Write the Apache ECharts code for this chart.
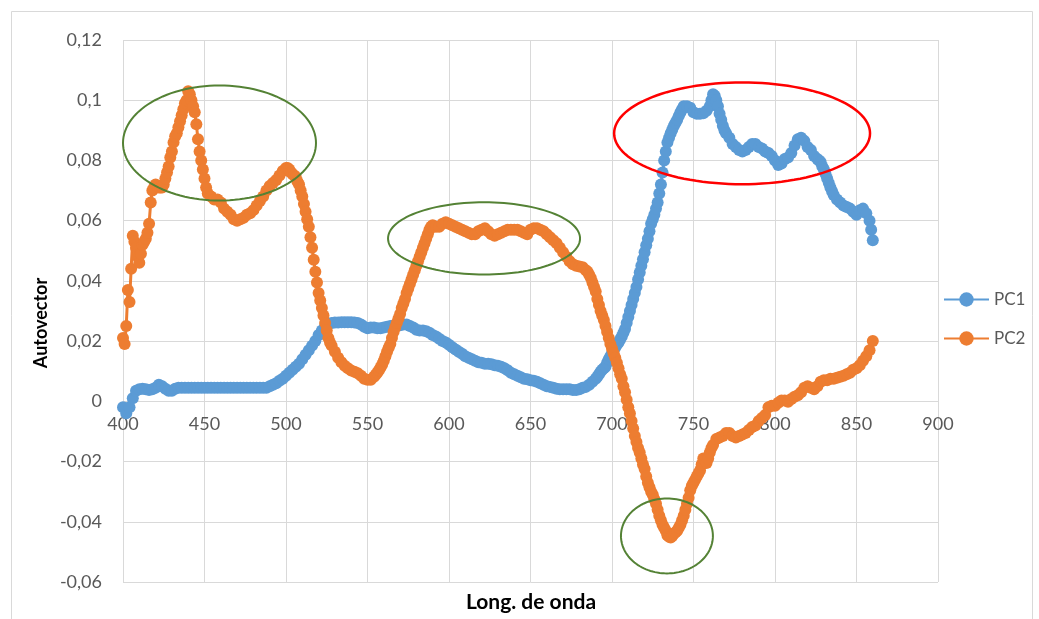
<!DOCTYPE html>
<html>
<head>
<meta charset="utf-8">
<script src="https://cdn.jsdelivr.net/npm/echarts@6/dist/echarts.min.js"></script>
<style>html,body{margin:0;padding:0;background:#fff;}#c{width:1039px;height:619px;}</style>
</head>
<body>
<div id="c"></div>
<script>
const wavelengths = [
400,402,404,406,408,410,412,414,416,418,
420,422,424,426,428,430,432,434,436,438,
440,442,444,446,448,450,452,454,456,458,
460,462,464,466,468,470,472,474,476,478,
480,482,484,486,488,490,492,494,496,498,
500,502,504,506,508,510,512,514,516,518,
520,522,524,526,528,530,532,534,536,538,
540,542,544,546,548,550,552,554,556,558,
560,562,564,566,568,570,572,574,576,578,
580,582,584,586,588,590,592,594,596,598,
600,602,604,606,608,610,612,614,616,618,
620,622,624,626,628,630,632,634,636,638,
640,642,644,646,648,650,652,654,656,658,
660,662,664,666,668,670,672,674,676,678,
680,682,684,686,688,690,692,694,696,698,
700,702,704,706,708,710,712,714,716,718,
720,722,724,726,728,730,732,734,736,738,
740,742,744,746,748,750,752,754,756,758,
760,762,764,766,768,770,772,774,776,778,
780,782,784,786,788,790,792,794,796,798,
800,802,804,806,808,810,812,814,816,818,
820,822,824,826,828,830,832,834,836,838,
840,842,844,846,848,850,852,854,856,858,
860];

const pc1 = [
-0.002,-0.004,-0.002,0.001,0.0035,0.004,0.0042,0.004,0.0038,0.004,
0.0045,0.0055,0.005,0.0042,0.0035,0.0035,0.0042,0.0045,0.0045,0.0045,
0.0045,0.0045,0.0045,0.0045,0.0045,0.0045,0.0045,0.0045,0.0045,0.0045,
0.0045,0.0045,0.0045,0.0045,0.0045,0.0045,0.0045,0.0045,0.0045,0.0045,
0.0045,0.0045,0.0045,0.0045,0.0045,0.005,0.0055,0.006,0.0068,0.0075,
0.0085,0.0095,0.0105,0.0115,0.0125,0.014,0.0155,0.017,0.0185,0.02,
0.022,0.0235,0.025,0.0258,0.026,0.0262,0.0262,0.0263,0.0263,0.0263,
0.0263,0.0262,0.026,0.0255,0.0248,0.0243,0.0245,0.0245,0.0243,0.0243,
0.0245,0.0248,0.025,0.0252,0.0252,0.0253,0.0255,0.0255,0.025,0.0245,
0.0238,0.0235,0.0235,0.0233,0.0228,0.022,0.0215,0.0208,0.02,0.0195,
0.0188,0.018,0.0172,0.0165,0.0158,0.015,0.0145,0.014,0.0135,0.013,
0.0128,0.0125,0.0125,0.0123,0.012,0.0118,0.0115,0.011,0.0103,0.0095,
0.009,0.0085,0.008,0.0075,0.0073,0.007,0.0068,0.0065,0.006,0.0055,
0.005,0.0048,0.0045,0.0042,0.004,0.004,0.004,0.004,0.0038,0.0038,
0.004,0.0045,0.0048,0.0055,0.0065,0.0075,0.009,0.0105,0.0115,0.014,
0.016,0.018,0.0195,0.0215,0.024,0.028,0.032,0.036,0.0405,0.045,
0.0495,0.054,0.059,0.062,0.066,0.072,0.080,0.086,0.089,0.0915,
0.0935,0.096,0.098,0.098,0.0975,0.096,0.0955,0.0955,0.0957,0.0965,
0.098,0.102,0.1,0.0955,0.0915,0.089,0.0875,0.0855,0.0845,0.0835,
0.083,0.0835,0.0845,0.0855,0.0855,0.0845,0.084,0.083,0.0825,0.0815,
0.080,0.0785,0.079,0.0805,0.081,0.0825,0.085,0.087,0.0875,0.0865,
0.0845,0.0835,0.0815,0.0805,0.0795,0.077,0.074,0.071,0.0685,0.067,
0.066,0.065,0.0645,0.064,0.063,0.062,0.0635,0.064,0.0625,0.06,
0.0535];

// extra readings taken on the steep parts of PC1 (odd wavelengths)
const pc1ExtraWl = [691,693,695,697,699,701,703,705,707,709,711,713,715,717,719,721,723,725,727,729,
  731,733,735,737,739,741,743,761,763,765,767,769,827,829,831,833,835,859];
const pc1Extra = [0.0082,0.0098,0.011,0.0128,0.015,0.017,0.0188,0.0205,0.0228,0.026,0.030,0.034,0.038,0.0428,0.0472,0.0518,0.0565,0.0605,0.064,0.069,
  0.076,0.083,0.0875,0.0903,0.0925,0.0948,0.097,0.100,0.1015,0.098,0.0935,0.090,0.080,0.078,0.0755,0.0725,0.0698,0.057];

const pc2 = [
0.021,0.025,0.033,0.055,0.051,0.046,0.052,0.054,0.059,0.070,
0.072,0.071,0.071,0.074,0.078,0.083,0.088,0.091,0.095,0.099,
0.103,0.1,0.096,0.087,0.08,0.074,0.069,0.068,0.067,0.067,
0.066,0.064,0.063,0.062,0.0605,0.060,0.0605,0.061,0.062,0.0625,
0.0635,0.065,0.0665,0.068,0.07,0.0715,0.0725,0.0735,0.075,0.0765,
0.0775,0.077,0.0755,0.0745,0.072,0.068,0.063,0.058,0.051,0.043,
0.036,0.031,0.026,0.021,0.0185,0.0165,0.0145,0.013,0.0118,0.011,
0.0102,0.0098,0.0093,0.0085,0.0075,0.0072,0.0072,0.0082,0.0095,0.0112,
0.0135,0.0165,0.019,0.023,0.026,0.029,0.0325,0.036,0.039,0.042,
0.045,0.048,0.051,0.054,0.057,0.0585,0.058,0.058,0.059,0.0595,
0.059,0.0585,0.058,0.0575,0.057,0.0565,0.056,0.0555,0.0555,0.0565,
0.057,0.0575,0.0565,0.0555,0.055,0.0555,0.056,0.0565,0.057,0.057,
0.057,0.057,0.0565,0.056,0.0555,0.057,0.0575,0.0575,0.057,0.0565,
0.0555,0.0545,0.0535,0.0525,0.051,0.0495,0.048,0.0465,0.0455,0.045,
0.0448,0.0445,0.0435,0.042,0.0395,0.0365,0.032,0.0285,0.025,0.021,
0.0175,0.0145,0.011,0.0075,0.003,-0.002,-0.0065,-0.0115,-0.0155,-0.019,
-0.0225,-0.027,-0.03,-0.0325,-0.036,-0.0395,-0.042,-0.0445,-0.0452,-0.044,
-0.043,-0.041,-0.038,-0.034,-0.0295,-0.027,-0.025,-0.023,-0.019,-0.0205,
-0.017,-0.0145,-0.0125,-0.012,-0.0115,-0.0105,-0.0105,-0.0115,-0.012,-0.0115,
-0.011,-0.0105,-0.0095,-0.0085,-0.008,-0.0065,-0.0055,-0.0045,-0.002,-0.0015,
-0.0015,-0.0005,0.0003,0.0003,-0.0001,0.0008,0.0015,0.002,0.003,0.0045,
0.005,0.0045,0.004,0.005,0.0065,0.007,0.007,0.0075,0.0075,0.0078,
0.0082,0.0085,0.009,0.0095,0.0105,0.011,0.012,0.0135,0.015,0.017,
0.020];

// extra readings taken on the steep parts of PC2 (odd wavelengths)
const pc2ExtraWl = [401,403,405,407,409,411,413,415,417,419,421,423,425,427,429,431,433,435,437,439,
  441,443,445,447,449,451,501,503,505,507,509,511,513,515,517,519,521,523,525,527,
  555,557,559,561,563,565,567,569,571,573,575,577,579,581,583,585,587,589,
  685,687,689,691,693,695,697,699,701,703,705,707,709,711,713,715,717,719,721,723,
  725,727,729,731,733,735,737,739,741,743,745,747,749,751,753,755,757,759,761];
const pc2Extra = [0.019,0.037,0.044,0.053,0.048,0.049,0.053,0.056,0.066,0.071,0.0715,0.071,0.072,0.076,0.081,0.086,0.089,0.093,0.097,0.100,
  0.102,0.098,0.092,0.083,0.077,0.071,0.0775,0.076,0.075,0.073,0.070,0.0655,0.0605,0.0545,0.047,0.0395,0.0335,0.0285,0.0235,0.0195,
  0.0088,0.0103,0.0122,0.015,0.0178,0.021,0.0245,0.0275,0.031,0.034,0.0375,0.0405,0.0435,0.0465,0.0495,0.0525,0.0555,0.058,
  0.043,0.041,0.038,0.034,0.030,0.027,0.023,0.019,0.016,0.0128,0.009,0.005,0.0005,-0.004,-0.009,-0.0135,-0.017,-0.021,-0.025,-0.0285,
  -0.031,-0.034,-0.038,-0.041,-0.043,-0.045,-0.0447,-0.0435,-0.042,-0.0395,-0.036,-0.032,-0.028,-0.026,-0.024,-0.021,-0.0195,-0.019,-0.0155];

const seriesNames = ['PC1', 'PC2'];
const xTitle = 'Long. de onda';
const yTitle = 'Autovector';

// annotation ellipses: [center wavelength, center value, radius nm, radius value, colour, width]
const ellipses = [
  [459.2, 0.0858, 59.2, 0.0191, '#548235', 2],
  [621.5, 0.0541, 58.9, 0.0120, '#548235', 2],
  [779.8, 0.0890, 78.5, 0.0169, '#ff0000', 2.5],
  [733.7, -0.0447, 28.2, 0.01245, '#548235', 2]
];

const FONT = 'Lato, "Open Sans", sans-serif';
const chart = echarts.init(document.getElementById('c'), null, {renderer: 'canvas'});

function merged(wl, vals, exWl, exVals) {
  const p = wl.map((w, i) => [w, vals[i]]).concat(exWl.map((w, i) => [w, exVals[i]]));
  p.sort((a, b) => a[0] - b[0]);
  return p;
}

const gridTop = 40, gridBottom = 37, plotH = 619 - gridTop - gridBottom;
const yMin = -0.06, yMax = 0.12;
const zeroOffset = -plotH * (0 - yMin) / (yMax - yMin);

const option = {
  animation: false,
  backgroundColor: '#fff',
  grid: {left: 123, right: 101, top: gridTop, bottom: gridBottom, containLabel: false},
  legend: {
    orient: 'vertical', left: 938, top: 286,
    itemWidth: 45, itemHeight: 18, itemGap: 22,
    textStyle: {fontFamily: FONT, fontSize: 17, color: '#595959'},
    data: seriesNames
  },
  xAxis: {
    type: 'value', min: 400, max: 900, interval: 50,
    offset: zeroOffset,
    axisLine: {show: true, onZero: false, lineStyle: {color: '#d9d9d9', width: 1}},
    axisTick: {show: false},
    axisLabel: {fontFamily: FONT, fontSize: 18, color: '#595959', margin: 14},
    splitLine: {show: true, lineStyle: {color: '#d9d9d9', width: 1}}
  },
  yAxis: {
    type: 'value', min: yMin, max: yMax, interval: 0.02,
    axisLine: {show: false},
    axisTick: {show: false},
    axisLabel: {fontFamily: FONT, fontSize: 18, color: '#595959', margin: 21,
      formatter: v => (Math.round(v * 100) / 100).toString().replace('.', ',')},
    splitLine: {show: true, lineStyle: {color: '#d9d9d9', width: 1}}
  },
  series: [
    {name: seriesNames[0], type: 'line', data: merged(wavelengths, pc1, pc1ExtraWl, pc1Extra), symbol: 'circle', symbolSize: 12,
     showAllSymbol: true, lineStyle: {width: 3, color: '#5B9BD5'}, itemStyle: {color: '#5B9BD5'}, z: 2},
    {name: seriesNames[1], type: 'line', data: merged(wavelengths, pc2, pc2ExtraWl, pc2Extra), symbol: 'circle', symbolSize: 12,
     showAllSymbol: true, lineStyle: {width: 3, color: '#ED7D31'}, itemStyle: {color: '#ED7D31'}, z: 3}
  ]
};
chart.setOption(option);

function ellipsePoints(e) {
  const c = chart.convertToPixel({gridIndex: 0}, [e[0], e[1]]);
  const r = chart.convertToPixel({gridIndex: 0}, [e[0] + e[2], e[1] + e[3]]);
  const rx = Math.abs(r[0] - c[0]), ry = Math.abs(r[1] - c[1]);
  const pts = [];
  for (let k = 0; k < 120; k++) {
    const t = k / 120 * Math.PI * 2;
    pts.push([c[0] + rx * Math.cos(t), c[1] + ry * Math.sin(t)]);
  }
  return pts;
}

const graphics = [
  {type: 'rect', left: 9, top: 9, silent: true, z: -10,
   shape: {x: 0, y: 0, width: 1021, height: 640}, style: {fill: 'none', stroke: '#d9d9d9', lineWidth: 1}},
  {type: 'text', x: 531, y: 602, silent: true,
   style: {text: xTitle, fontFamily: FONT, fontSize: 21, fontWeight: 'bold', fill: '#000',
     textAlign: 'center', textVerticalAlign: 'middle'}},
  {type: 'text', x: 41, y: 323, rotation: Math.PI / 2, silent: true,
   style: {text: yTitle, fontFamily: FONT, fontSize: 18, fontWeight: 'bold', fill: '#000',
     textAlign: 'center', textVerticalAlign: 'middle'}}
].concat(ellipses.map(e => ({
  type: 'polygon', silent: true, z: 100,
  shape: {points: ellipsePoints(e)},
  style: {fill: 'none', stroke: e[4], lineWidth: e[5]}
})));
chart.setOption({graphic: graphics});
</script>
</body>
</html>
